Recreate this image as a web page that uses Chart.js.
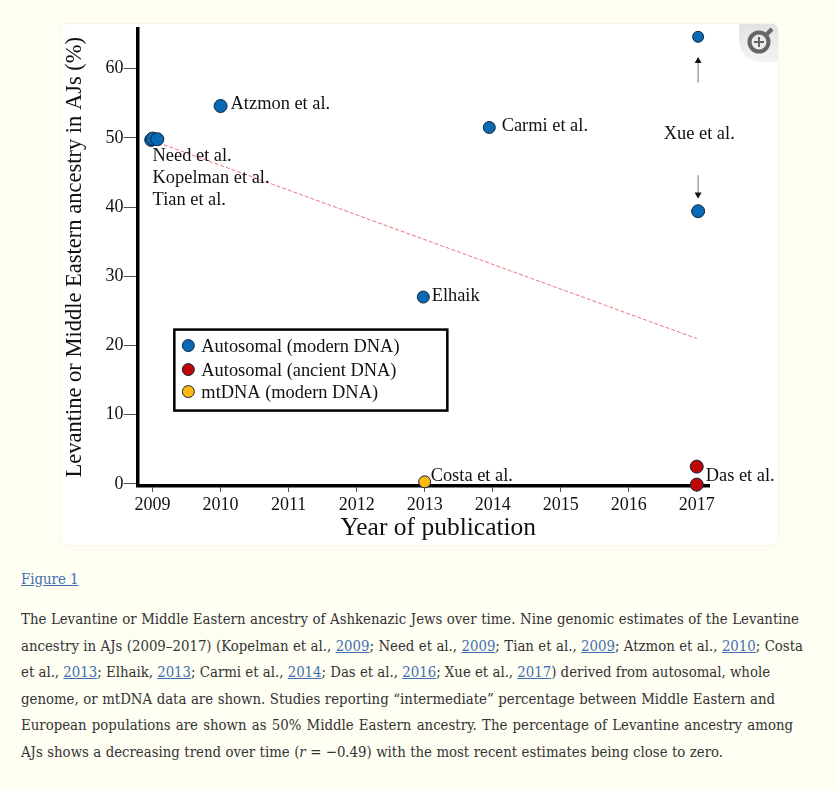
<!DOCTYPE html>
<html>
<head>
<meta charset="utf-8">
<script src="https://cdn.jsdelivr.net/npm/chart.js@4"></script>
<style>
html, body { margin: 0; padding: 0; background: #fffef3; overflow: hidden; }
#card { position: absolute; left: 61px; top: 24px; width: 717px; height: 521px; background: #fff;
        border-radius: 6px; box-shadow: 0 0 0 1px #fbf5e4; overflow: hidden; }
#myChart { position: absolute; left: 0; top: -3px; }
#zoomIcon { position: absolute; right: 0; top: 0; width: 39px; height: 38px; border-bottom-left-radius: 22px;
            background: linear-gradient(to bottom, #e2e2e2, #f4f4f4); }
#caption { position: absolute; left: 21px; top: 566px; width: 800px; color: #333;
           font-family: "DejaVu Serif Condensed", "DejaVu Serif", serif; font-size: 14.8px; }
#caption a { color: #3f6fb0; text-decoration: underline; }
#caption .fig { line-height: 26px; margin-bottom: 14px; }
#caption .line { line-height: 26.6px; white-space: nowrap; text-align: justify; text-align-last: justify; }
</style>
</head>
<body>
<div id="card">
    <canvas id="myChart" width="717" height="524"></canvas>
    <div id="zoomIcon">
        <svg width="39" height="38" viewBox="0 0 39 38">
            <circle cx="20" cy="18" r="9.5" fill="none" stroke="#666" stroke-width="4"/>
            <line x1="27" y1="11" x2="33" y2="5" stroke="#666" stroke-width="4"/>
            <path d="M15 18h10M20 13v10" stroke="#666" stroke-width="2"/>
        </svg>
    </div>
</div>
<div id="caption">
    <div class="fig"><a href="#">Figure 1</a></div>
    <div class="line" style="width:778px">The Levantine or Middle Eastern ancestry of Ashkenazic Jews over time. Nine genomic estimates of the Levantine</div>
    <div class="line" style="width:782px">ancestry in AJs (2009–2017) (Kopelman et al., <a href="#">2009</a>; Need et al., <a href="#">2009</a>; Tian et al., <a href="#">2009</a>; Atzmon et al., <a href="#">2010</a>; Costa</div>
    <div class="line" style="width:746px">et al., <a href="#">2013</a>; Elhaik, <a href="#">2013</a>; Carmi et al., <a href="#">2014</a>; Das et al., <a href="#">2016</a>; Xue et al., <a href="#">2017</a>) derived from autosomal, whole</div>
    <div class="line" style="width:754px">genome, or mtDNA data are shown. Studies reporting “intermediate” percentage between Middle Eastern and</div>
    <div class="line" style="width:772px">European populations are shown as 50% Middle Eastern ancestry. The percentage of Levantine ancestry among</div>
    <div class="line" style="width:702px">AJs shows a decreasing trend over time (<i>r</i> = −0.49) with the most recent estimates being close to zero.</div>
</div>
<script>
var seriesNames = ["Autosomal (modern DNA)", "Autosomal (ancient DNA)", "mtDNA (modern DNA)"];
var seriesColors = ["#0a69b5", "#c00505", "#fdb90f"];

// blue: Need, Kopelman, Tian, Atzmon, Elhaik, Carmi, Xue (2)
var modernYears = [2008.98, 2009, 2009.07, 2010, 2012.98, 2013.95, 2017.02, 2017.02];
var modernValues = [49.7, 49.9, 49.8, 54.6, 27, 51.5, 64.6, 39.4];
var ancientYears = [2017, 2017];
var ancientValues = [2.5, -0.1];
var mtYears = [2013];
var mtValues = [0.3];

var trendYears = [2009, 2017];
var trendValues = [49.6, 21];

var arrowUpValues = [58, 61.1];
var arrowDownValues = [44.6, 41.8];
var arrowYear = 2017.02;

function toPoints(xs, ys) {
    return xs.map(function(x, i) { return {x: x, y: ys[i]}; });
}

var serif = '"Liberation Serif"';

function scatterSet(label, xs, ys, color, radius) {
    return {
        type: 'scatter',
        label: label,
        data: toPoints(xs, ys),
        backgroundColor: color,
        borderColor: '#12263a',
        borderWidth: 1,
        pointRadius: radius,
        clip: false,
        order: 1
    };
}

function arrowSet(values, rotation) {
    return {
        type: 'line',
        label: 'arrow',
        data: toPoints([arrowYear, arrowYear], values),
        borderColor: '#888',
        borderWidth: 1.2,
        pointStyle: 'triangle',
        pointRadius: [0, 2.8],
        pointRotation: rotation,
        pointBackgroundColor: '#111',
        pointBorderColor: '#111',
        order: 3
    };
}

function dropScalePadding(s) {
    s.paddingTop = 0;
    s.paddingBottom = 0;
    s.paddingLeft = 0;
    s.paddingRight = 0;
}

// names next to the marks, x title and legend box
var textPlugin = {
    id: 'textPlugin',
    afterDatasetsDraw: function(chart) {
        var c = chart.ctx, xs = chart.scales.x, ys = chart.scales.y;
        function note(text, year, val, dx, dy) {
            c.fillText(text, xs.getPixelForValue(year) + dx, ys.getPixelForValue(val) + dy);
        }
        c.save();
        c.fillStyle = '#111';
        c.textAlign = 'left';
        c.textBaseline = 'middle';
        c.font = '18.4px ' + serif;
        note('Need et al.', 2009, 50, 0, 18);
        note('Kopelman et al.', 2009, 50, 0, 40);
        note('Tian et al.', 2009, 50, 0, 62);
        note('Atzmon et al.', 2010, 54.6, 10, -2);
        note('Carmi et al.', 2014, 51.5, 9, -1);
        note('Xue et al.', 2017, 50, -33, -4);
        note('Elhaik', 2013, 27, 7, -1);
        note('Das et al.', 2017, 0, 9, -8);
        note('Costa et al.', 2013, 0.3, 6, -6);

        // x axis title sits right of the plot centre in the original
        c.textAlign = 'center';
        c.font = '25.5px ' + serif;
        c.fillText('Year of publication', xs.getPixelForValue(2013.2), chart.chartArea.bottom + 42);

        // legend box
        var lx = xs.getPixelForValue(2009.32), ly = ys.getPixelForValue(22.3);
        c.strokeStyle = '#000';
        c.lineWidth = 2.5;
        c.fillStyle = '#fff';
        c.fillRect(lx, ly, 273, 81);
        c.strokeRect(lx, ly, 273, 81);
        c.textAlign = 'left';
        c.font = '18.4px ' + serif;
        var rows = [16, 40, 62];
        seriesNames.forEach(function(name, i) {
            c.beginPath();
            c.arc(lx + 14, ly + rows[i], 6, 0, Math.PI * 2);
            c.fillStyle = seriesColors[i];
            c.fill();
            c.lineWidth = 1;
            c.strokeStyle = '#12263a';
            c.stroke();
            c.fillStyle = '#111';
            c.fillText(name, lx + 27, ly + rows[i] + 2);
        });
        c.restore();
    }
};

var myChart = new Chart(document.getElementById('myChart'), {
    data: {
        datasets: [
            scatterSet(seriesNames[0], modernYears, modernValues, seriesColors[0], [6.5, 6.5, 6.5, 6.5, 6, 6, 5.5, 6.5]),
            scatterSet(seriesNames[1], ancientYears, ancientValues, seriesColors[1], 6.5),
            scatterSet(seriesNames[2], mtYears, mtValues, seriesColors[2], 6),
            {
                type: 'line',
                label: 'trend',
                data: toPoints(trendYears, trendValues),
                borderColor: '#ec7480',
                borderWidth: 1,
                borderDash: [4, 2],
                pointRadius: 0,
                order: 2
            },
            arrowSet(arrowUpValues, 0),
            arrowSet(arrowDownValues, 180)
        ]
    },
    plugins: [textPlugin],
    options: {
        responsive: false,
        animation: false,
        layout: { padding: { top: 0, right: 69, left: 0.6, bottom: 0 } },
        plugins: { legend: { display: false }, tooltip: { enabled: false } },
        scales: {
            x: {
                type: 'linear',
                min: 2008.78,
                max: 2017.18,
                afterFit: function(s) { s.height = 59; dropScalePadding(s); },
                grid: { drawOnChartArea: false, tickLength: 6, tickColor: '#555', tickWidth: 1 },
                border: { color: '#000', width: 3.5 },
                ticks: {
                    stepSize: 1,
                    includeBounds: false,
                    maxRotation: 0,
                    padding: 2,
                    color: '#111',
                    font: { family: serif, size: 18 },
                    callback: function(v) { return String(v); }
                }
            },
            y: {
                type: 'linear',
                min: -0.3,
                max: 65.8,
                afterFit: function(s) { s.width = 76; dropScalePadding(s); },
                title: {
                    display: true,
                    text: 'Levantine or Middle Eastern ancestry in AJs (%)',
                    color: '#111',
                    padding: 0,
                    font: { family: serif, size: 22.5 }
                },
                grid: { drawOnChartArea: false, tickLength: 14, tickColor: '#555', tickWidth: 1 },
                border: { color: '#000', width: 3.5 },
                ticks: {
                    stepSize: 10,
                    includeBounds: false,
                    padding: 0,
                    color: '#111',
                    font: { family: serif, size: 18 }
                }
            }
        }
    }
});
</script>
</body>
</html>
